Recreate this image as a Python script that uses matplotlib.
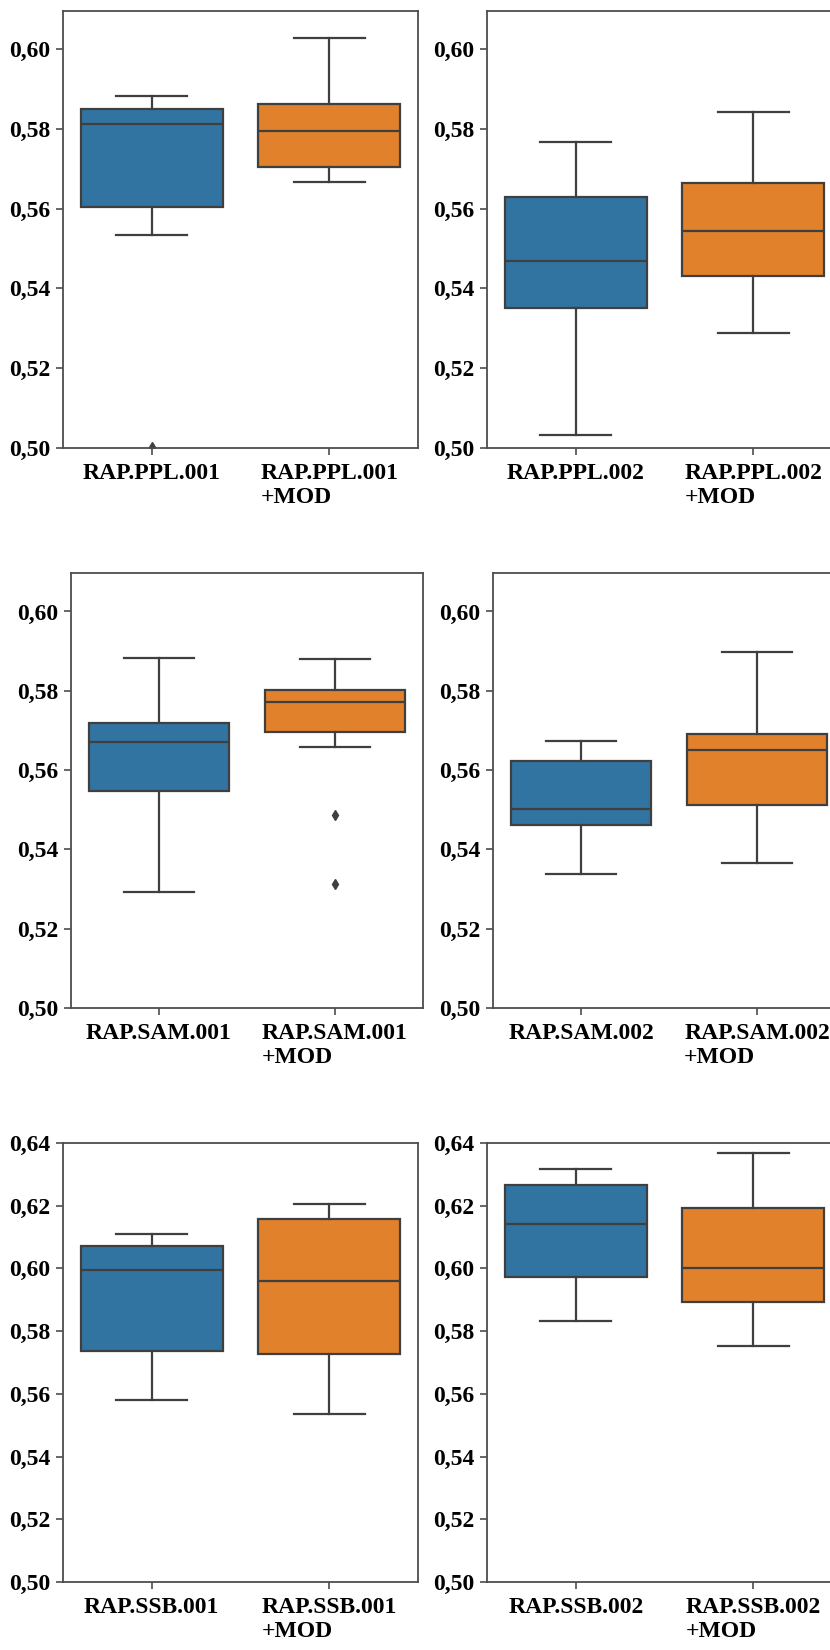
import matplotlib
matplotlib.use("Agg")
import matplotlib.pyplot as plt
from matplotlib.ticker import FixedLocator, FuncFormatter

# five-number summaries: [whislo, q1, median, q3, whishi]
ppl001 = [0.5533, 0.5604, 0.5812, 0.5850, 0.5882]
ppl001_mod = [0.5667, 0.5705, 0.5795, 0.5861, 0.6028]
ppl002 = [0.5033, 0.5351, 0.5469, 0.5628, 0.5768]
ppl002_mod = [0.5287, 0.5430, 0.5543, 0.5664, 0.5842]
sam001 = [0.5292, 0.5548, 0.5671, 0.5718, 0.5883]
sam001_mod = [0.5658, 0.5697, 0.5772, 0.5803, 0.5881]
sam002 = [0.5338, 0.5461, 0.5503, 0.5624, 0.5674]
sam002_mod = [0.5365, 0.5513, 0.5650, 0.5691, 0.5897]
ssb001 = [0.5582, 0.5738, 0.5995, 0.6073, 0.6110]
ssb001_mod = [0.5536, 0.5727, 0.5961, 0.6159, 0.6205]
ssb002 = [0.5832, 0.5974, 0.6141, 0.6266, 0.6318]
ssb002_mod = [0.5754, 0.5892, 0.6000, 0.6192, 0.6369]

# outliers
ppl001_fliers = [0.5003]
sam001_mod_fliers = [0.5487, 0.5313]

names = ["RAP.PPL.001", "RAP.PPL.002", "RAP.SAM.001",
         "RAP.SAM.002", "RAP.SSB.001", "RAP.SSB.002"]

ticks_low = [0.50, 0.52, 0.54, 0.56, 0.58, 0.60]
ticks_high = [0.50, 0.52, 0.54, 0.56, 0.58, 0.60, 0.62, 0.64]

BLUE = "#3274a1"
ORANGE = "#e1812c"
GRAY = "#3f3f3f"
FONT = "Liberation Serif"


def makeStats(summary, fliers):
    return {"whislo": summary[0], "q1": summary[1], "med": summary[2],
            "q3": summary[3], "whishi": summary[4], "fliers": fliers}


def drawPanel(ax, name, base, mod, baseFliers, modFliers, yticks, ytop):
    stats = [makeStats(base, baseFliers), makeStats(mod, modFliers)]
    bp = ax.bxp(stats, positions=[0, 1], widths=0.8, patch_artist=True,
                boxprops=dict(edgecolor=GRAY, linewidth=1.6),
                medianprops=dict(color=GRAY, linewidth=1.6),
                whiskerprops=dict(color=GRAY, linewidth=1.6),
                capprops=dict(color=GRAY, linewidth=1.6),
                flierprops=dict(marker="d", markerfacecolor=GRAY, markeredgecolor=GRAY,
                                markersize=5))
    for patch, col in zip(bp["boxes"], [BLUE, ORANGE]):
        patch.set_facecolor(col)

    ax.set_xlim(-0.5, 1.5)
    ax.set_ylim(0.50, ytop)
    ax.yaxis.set_major_locator(FixedLocator(yticks))
    ax.yaxis.set_major_formatter(FuncFormatter(lambda v, p: "{:.2f}".format(v).replace(".", ",")))
    ax.set_xticks([0, 1])
    ax.set_xticklabels([name, name + "\n+MOD"], multialignment="left")
    for lab in ax.get_xticklabels() + ax.get_yticklabels():
        lab.set_fontfamily(FONT)
        lab.set_fontweight("bold")
        lab.set_fontsize(17)
        lab.set_color("black")
    ax.tick_params(axis="both", direction="out", length=5, width=1.2, color="0.3")
    ax.tick_params(axis="x", pad=6)
    ax.tick_params(axis="y", pad=4)
    for sp in ax.spines.values():
        sp.set_color("0.3")
        sp.set_linewidth(1.3)


fig = plt.figure(figsize=(8.3, 16.5), dpi=100)
W, H = 830.0, 1650.0

# pixel boxes (left, top, right, bottom) measured on the reference
boxes = [
    (63, 11, 418, 448), (487, 11, 842, 448),
    (71, 573, 423, 1008), (493, 573, 845, 1008),
    (63, 1143, 418, 1582), (487, 1143, 842, 1582),
]

panels = [
    (names[0], ppl001, ppl001_mod, ppl001_fliers, [], ticks_low, 0.6095),
    (names[1], ppl002, ppl002_mod, [], [], ticks_low, 0.6095),
    (names[2], sam001, sam001_mod, [], sam001_mod_fliers, ticks_low, 0.6097),
    (names[3], sam002, sam002_mod, [], [], ticks_low, 0.6097),
    (names[4], ssb001, ssb001_mod, [], [], ticks_high, 0.64),
    (names[5], ssb002, ssb002_mod, [], [], ticks_high, 0.64),
]

for (l, t, r, b), p in zip(boxes, panels):
    ax = fig.add_axes([l / W, 1 - b / H, (r - l) / W, (b - t) / H])
    drawPanel(ax, *p)

fig.savefig("out.png", dpi=100)
